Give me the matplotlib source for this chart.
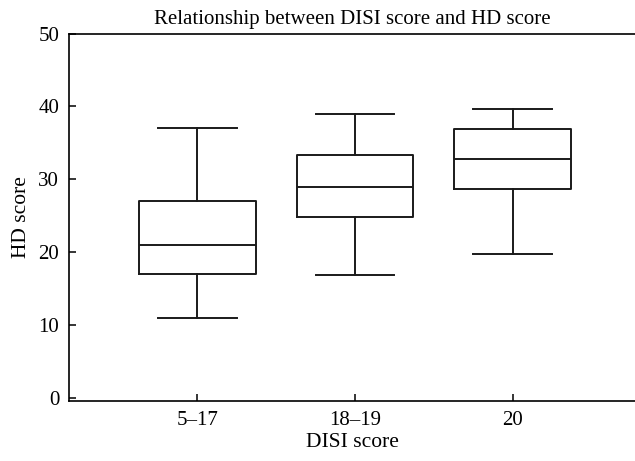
import matplotlib.pyplot as plt

categories = ['5\u201317', '18\u201319', '20']
whisker_low = [11, 16.8, 19.7]
q1 = [17, 24.8, 28.7]
median = [21, 29, 32.8]
q3 = [27, 33.4, 36.9]
whisker_high = [37, 39, 39.7]

plt.rcParams['font.family'] = ['Liberation Serif', 'DejaVu Serif']

stats = []
for i, name in enumerate(categories):
    stats.append({
        'label': name,
        'whislo': whisker_low[i],
        'q1': q1[i],
        'med': median[i],
        'q3': q3[i],
        'whishi': whisker_high[i],
        'fliers': [],
    })

fig = plt.figure(figsize=(6.35, 4.61), dpi=100)
ax = fig.add_axes([0.1087, 0.130, 0.8913, 0.797])

line_style = dict(color='#1a1a1a', linewidth=1.4)
ax.bxp(stats, positions=[1, 2, 3], widths=0.74, capwidths=0.5,
       showfliers=False,
       boxprops=line_style, whiskerprops=line_style,
       capprops=line_style, medianprops=line_style)

ax.set_xlim(0.186, 3.776)
ax.set_ylim(-0.45, 50)
ax.set_yticks([0, 10, 20, 30, 40, 50])
ax.set_xticks([1, 2, 3])
ax.set_xticklabels(categories)

for side in ['top', 'bottom', 'left']:
    ax.spines[side].set_linewidth(1.2)
ax.spines['right'].set_visible(False)
ax.tick_params(direction='in', length=5, width=1.1, labelsize=15, pad=7)

ax.set_title('Relationship between DISI score and HD score', fontsize=15, pad=7)
ax.set_xlabel('DISI score', fontsize=15.5, labelpad=2)
ax.set_ylabel('HD score', fontsize=15.5, labelpad=5)

plt.savefig('out.png', dpi=100)
